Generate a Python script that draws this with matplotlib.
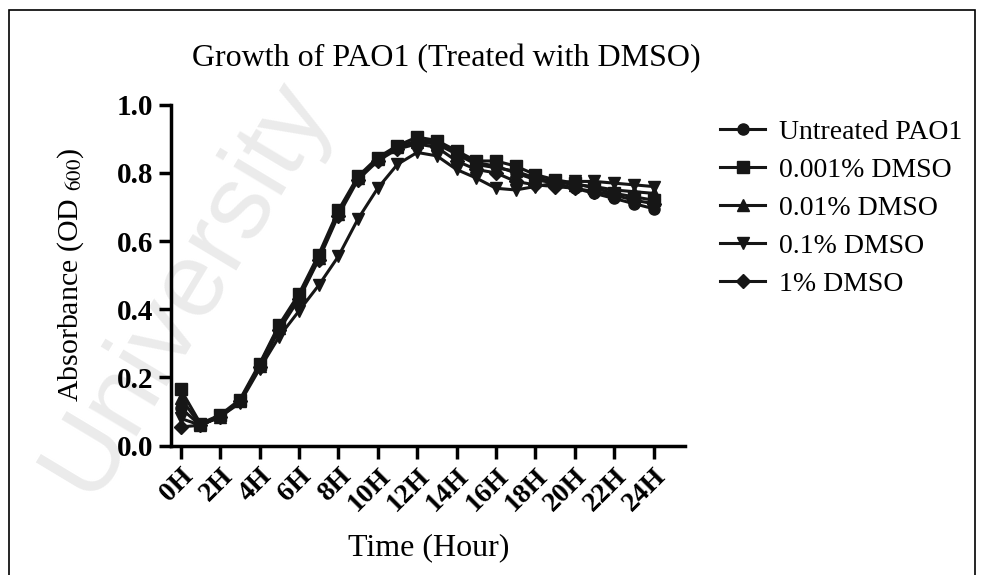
import numpy as np
import matplotlib
matplotlib.use("Agg")
import matplotlib.pyplot as plt
from matplotlib.patches import Rectangle

plt.rcParams['font.family'] = ['Liberation Serif', 'DejaVu Serif']
plt.rcParams['mathtext.fontset'] = 'stix'

hours = list(range(25))
tick_hours = list(range(0, 25, 2))
tick_labels = [f"{h}H" for h in tick_hours]

series_names = ["Untreated PAO1", "0.001% DMSO", "0.01% DMSO", "0.1% DMSO", "1% DMSO"]

untreated = [0.11, 0.06, 0.085, 0.13, 0.235, 0.35, 0.44, 0.55, 0.685, 0.785, 0.84, 0.875, 0.895,
             0.89, 0.86, 0.83, 0.82, 0.80, 0.78, 0.77, 0.755, 0.74, 0.725, 0.71, 0.695]
dmso_0001 = [0.165, 0.065, 0.09, 0.135, 0.24, 0.355, 0.445, 0.56, 0.69, 0.79, 0.845, 0.88, 0.905,
             0.895, 0.865, 0.835, 0.835, 0.82, 0.795, 0.78, 0.77, 0.755, 0.74, 0.73, 0.72]
dmso_001 = [0.14, 0.06, 0.085, 0.13, 0.235, 0.345, 0.435, 0.55, 0.68, 0.785, 0.84, 0.875, 0.89,
            0.885, 0.855, 0.825, 0.815, 0.805, 0.785, 0.775, 0.765, 0.76, 0.75, 0.745, 0.74]
dmso_01 = [0.08, 0.06, 0.085, 0.125, 0.225, 0.32, 0.395, 0.47, 0.555, 0.665, 0.755, 0.825, 0.86,
           0.85, 0.81, 0.785, 0.755, 0.75, 0.76, 0.77, 0.775, 0.775, 0.77, 0.765, 0.76]
dmso_1 = [0.055, 0.06, 0.085, 0.13, 0.23, 0.34, 0.43, 0.545, 0.675, 0.78, 0.835, 0.87, 0.885,
          0.875, 0.835, 0.81, 0.80, 0.775, 0.765, 0.76, 0.755, 0.745, 0.735, 0.72, 0.71]

all_series = [untreated, dmso_0001, dmso_001, dmso_01, dmso_1]
markers = ['o', 's', '^', 'v', 'D']
msizes = [8, 8, 8, 8, 7]

fig = plt.figure(figsize=(9.82, 5.75), dpi=100)

# faint watermark, behind everything
fig.text(0.19, 0.50, "University", fontsize=76, color='#ebebeb', rotation=59,
         ha='center', va='center', family='Liberation Sans', zorder=-5)

ax = fig.add_axes([0.1746, 0.2249, 0.523, 0.593])
ax.set_facecolor('none')

for name, vals, m, ms in zip(series_names, all_series, markers, msizes):
    ax.plot(hours, vals, marker=m, markersize=ms, color='#161616', linewidth=2.2, label=name)

ax.set_xlim(-0.47, 25.6)
ax.set_ylim(0, 1.0)
ax.set_xticks(tick_hours)
ax.set_xticklabels(tick_labels, rotation=45, ha='right', rotation_mode='anchor',
                   fontsize=20, fontweight='bold')
ax.set_yticks([0.0, 0.2, 0.4, 0.6, 0.8, 1.0])
ax.set_yticklabels(["0.0", "0.2", "0.4", "0.6", "0.8", "1.0"], fontsize=21, fontweight='bold')

for s in ['top', 'right']:
    ax.spines[s].set_visible(False)
for s in ['left', 'bottom']:
    ax.spines[s].set_linewidth(2.5)
ax.tick_params(axis='both', width=2.5, length=9, direction='out', pad=4)

ax.set_title("Growth of PAO1 (Treated with DMSO)", fontsize=23, pad=28, x=0.536)
ax.set_xlabel("Time (Hour)", fontsize=23, labelpad=12)
ax.set_ylabel("Absorbance (OD $_{600}$)", fontsize=21.5, labelpad=22)

ax.legend(loc='upper left', bbox_to_anchor=(1.02, 1.03), frameon=False, fontsize=20,
          handlelength=1.6, labelspacing=0.45, handletextpad=0.5)

fig.patches.append(Rectangle((9 / 982, -0.02), (975 - 9) / 982, 1.02 - 10 / 575,
                             transform=fig.transFigure, fill=False, edgecolor='black', linewidth=1.2))

fig.savefig("out.png", dpi=100)
